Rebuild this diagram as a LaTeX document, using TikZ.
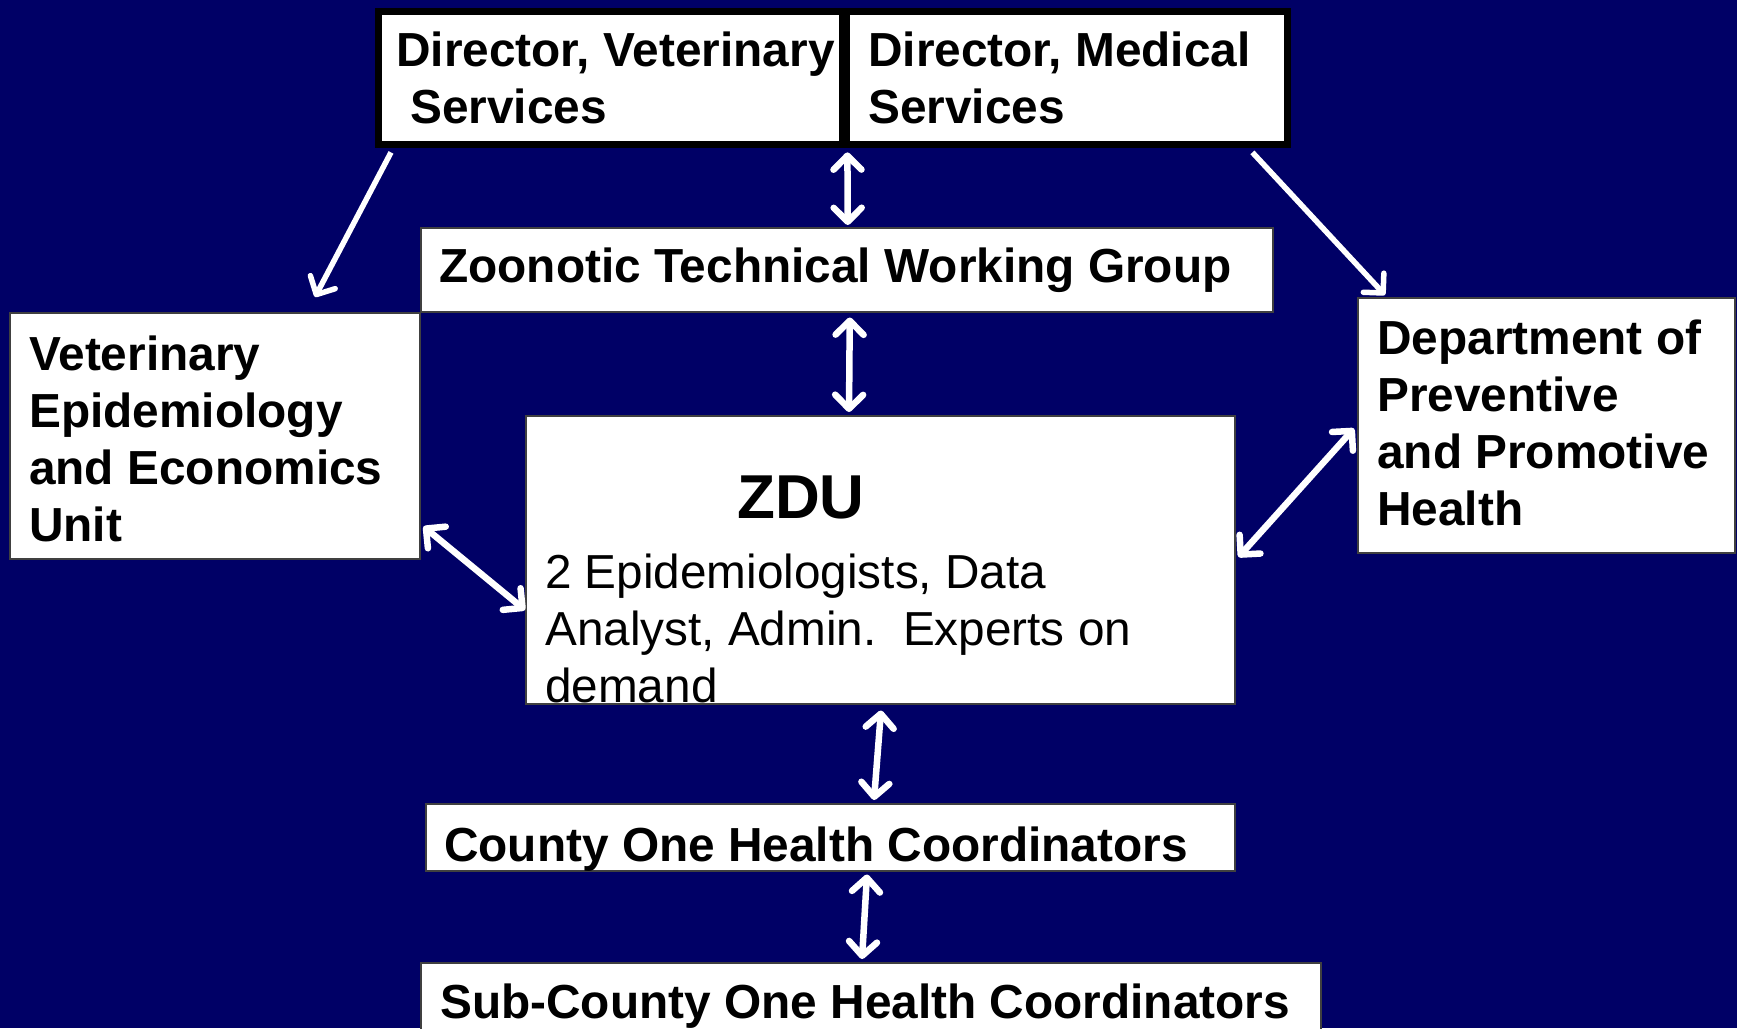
\documentclass[tikz,border=0pt]{standalone}
\usepackage{fontspec}
\setmainfont{Liberation Sans}
\usetikzlibrary{arrows.meta}
\definecolor{navy}{RGB}{0,0,102}
\tikzset{
  box/.style={draw=black!75, line width=1.5pt, fill=white, inner sep=0pt, anchor=north west},
  wbox/.style={fill=white, inner sep=0pt, anchor=north west},
  txt/.style={inner sep=0pt, anchor=base west, align=left, text=black,
    font=\bfseries\fontsize{47.8}{57.3}\selectfont},
  rtxt/.style={inner sep=0pt, anchor=base west, align=left, text=black,
    font=\fontsize{47.7}{57}\selectfont},
  arr/.style={draw=white, line width=6.5pt,
    {Straight Barb[length=14pt,width=28pt,line cap=round,line join=round]}-{Straight Barb[length=14pt,width=28pt,line cap=round,line join=round]}},
  sarr/.style={draw=white, line width=5.5pt,
    -{Straight Barb[length=14pt,width=28pt,line cap=round,line join=round]}},
}
\begin{document}
\begin{tikzpicture}[x=1pt,y=-1pt]
\fill[navy] (0,0) rectangle (1737,1028);
\useasboundingbox (0,0) rectangle (1737,1028);
% top frame
\fill[black] (375,8) rectangle (1291,148);
\node[wbox, minimum width=457pt, minimum height=126pt] (dvs) at (382,15) {};
\node[wbox, minimum width=434pt, minimum height=126pt] (dms) at (850,15) {};
\node[txt] (dvst) at (396,123.3) {Director, Veterinary\\\hspace*{14pt}Services};
\node[txt] (dmst) at (868,123.3) {Director, Medical\\Services};
% boxes
\node[box, minimum width=852pt, minimum height=84pt] (twg) at (420,227) {};
\node[txt] (twgt) at (439,282) {Zoonotic Technical Working Group};
\node[box, minimum width=410pt, minimum height=246pt] (vet) at (9,312) {};
\node[txt] (vett) at (29,541.9) {Veterinary\\Epidemiology\\and Economics\\Unit};
\node[box, minimum width=377pt, minimum height=255pt] (dept) at (1357,297) {};
\node[txt] (deptt) at (1377,525.9) {Department of\\Preventive\\and Promotive\\Health};
\node[box, minimum width=709pt, minimum height=288pt] (zdu) at (525,415) {};
\node[inner sep=0pt, anchor=base, font=\bfseries\fontsize{62}{70}\selectfont] (zdut) at (801,518) {ZDU};
\node[rtxt] (zdul) at (545,702) {2 Epidemiologists, Data\\Analyst, Admin.\ \ Experts on\\demand};
\node[box, minimum width=809pt, minimum height=67pt] (county) at (425,803) {};
\node[txt] (countyt) at (444,861) {County One Health Coordinators};
\node[box, minimum width=900pt, minimum height=80pt] (sub) at (420,962) {};
\node[txt] (subt) at (440,1018) {Sub-County One Health Coordinators};
% connectors
\draw[sarr] ([shift={(9,11)}]dvs.south west) -- ([shift={(306,-15)}]vet.north west);
\draw[sarr] ([shift={(-32,11)}]dms.south east) -- ([shift={(28,-2)}]dept.north west);
\draw[arr] ([shift={(8,11)}]dvs.south east) -- ([shift={(1,-2)}]twg.north);
\draw[arr] ([shift={(3,5)}]twg.south) -- ([shift={(324,-3)}]zdu.north west);
\draw[arr] ([shift={(3,-33)}]vet.south east) -- ([shift={(0,195)}]zdu.north west);
\draw[arr] ([shift={(3,142)}]zdu.north east) -- ([shift={(-3,-125)}]dept.south west);
\draw[arr] ([shift={(356,6)}]zdu.south west) -- ([shift={(449,-3)}]county.north west);
\draw[arr] ([shift={(442,3)}]county.south west) -- ([shift={(442,-3)}]sub.north west);
\end{tikzpicture}
\end{document}
